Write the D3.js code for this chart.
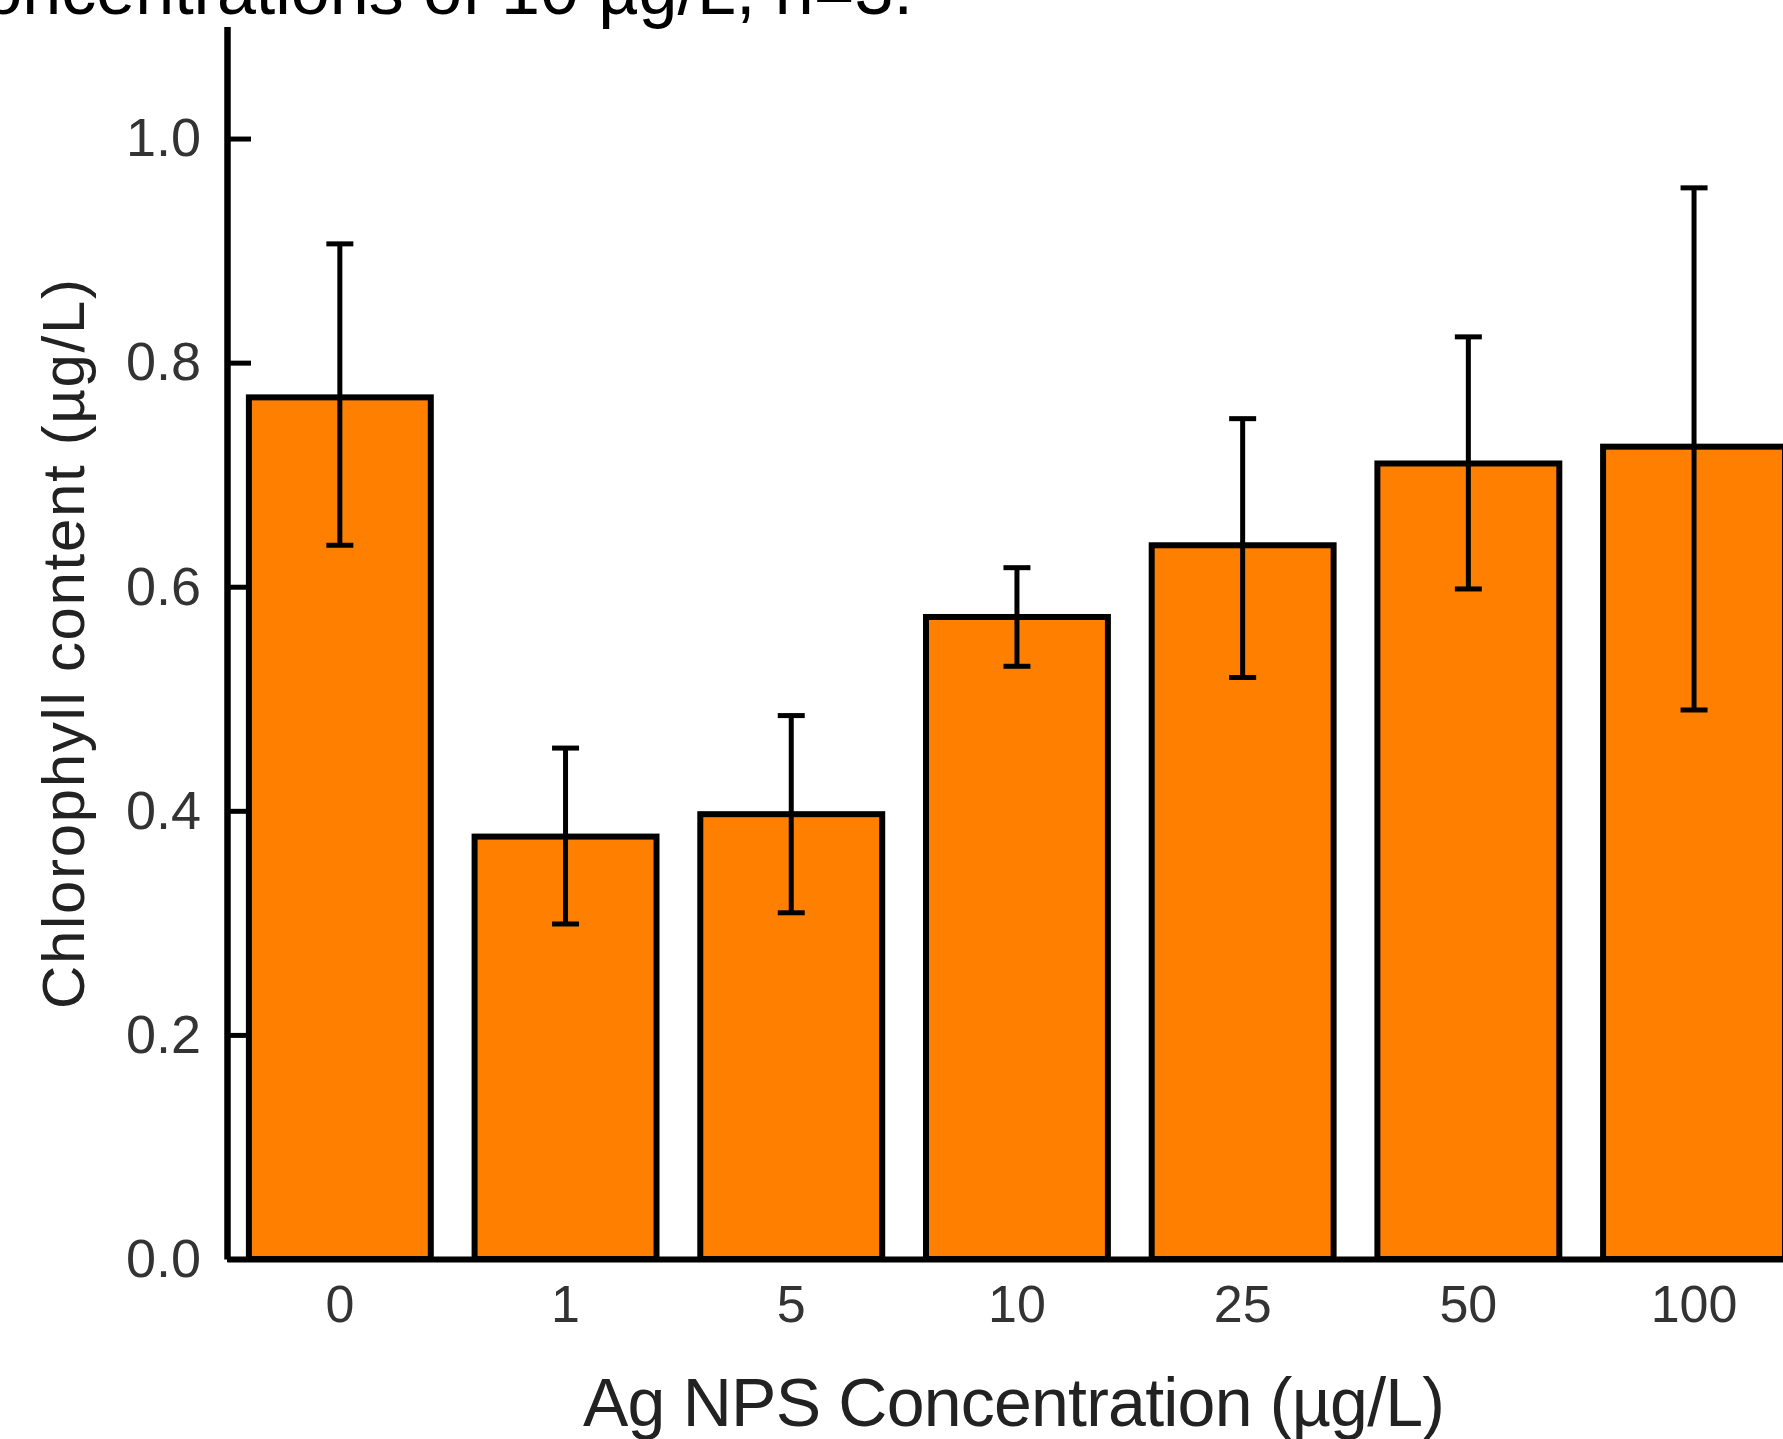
<!DOCTYPE html>
<html>
<head>
<meta charset="utf-8">
<script src="https://cdn.jsdelivr.net/npm/d3@7"></script>
<style>
  body { margin: 0; background: #fff; }
  svg { display: block; font-family: "Liberation Sans", Arial, sans-serif; }
</style>
</head>
<body>
<div id="chart"></div>
<script>
// Data
const categories = ["0", "1", "5", "10", "25", "50", "100"];
const means = [0.769, 0.377, 0.397, 0.573, 0.637, 0.710, 0.725];
const errUpper = [0.906, 0.456, 0.485, 0.617, 0.750, 0.823, 0.956];
const errLower = [0.637, 0.299, 0.309, 0.529, 0.519, 0.598, 0.490];
const yTicks = [0.0, 0.2, 0.4, 0.6, 0.8, 1.0];

const width = 1783, height = 1439;

const svg = d3.select("#chart")
  .append("svg")
  .attr("width", width)
  .attr("height", height);

// Scales
const y = d3.scaleLinear()
  .domain([0, 1.1])
  .range([1259, 26.5]);

const x = d3.scaleBand()
  .domain(categories)
  .range([227, 227 + 7 * 225.7])
  .paddingInner(0.194)
  .paddingOuter(0.097);

const data = categories.map((c, i) => ({
  cat: c, mean: means[i], hi: errUpper[i], lo: errLower[i]
}));

// Bars
svg.selectAll(".bar")
  .data(data)
  .enter()
  .append("rect")
  .attr("class", "bar")
  .attr("x", d => x(d.cat))
  .attr("y", d => y(d.mean))
  .attr("width", x.bandwidth())
  .attr("height", d => y(0) - y(d.mean))
  .attr("fill", "#ff8000")
  .attr("stroke", "#000")
  .attr("stroke-width", 6);

// X axis (baseline, no ticks)
const xAxis = svg.append("g")
  .attr("transform", `translate(0,${y(0)})`)
  .call(d3.axisBottom(x).tickSize(0).tickPadding(26));
xAxis.select(".domain").attr("stroke", "#000").attr("stroke-width", 6);
xAxis.selectAll("text")
  .attr("font-size", 52)
  .attr("font-family", "Liberation Sans, Arial, sans-serif")
  .attr("fill", "#333");

// Y axis with inward ticks
const yAxis = svg.append("g")
  .attr("transform", "translate(227,0)")
  .call(d3.axisLeft(y)
    .tickValues(yTicks)
    .tickFormat(d3.format(".1f"))
    .tickSizeInner(-24)
    .tickSizeOuter(0)
    .tickPadding(26));
yAxis.select(".domain").attr("stroke", "#000").attr("stroke-width", 6.5);
yAxis.selectAll(".tick line").attr("stroke", "#000").attr("stroke-width", 5);
yAxis.selectAll("text")
  .attr("font-size", 54)
  .attr("font-family", "Liberation Sans, Arial, sans-serif")
  .attr("fill", "#333");

// Error bars
const cx = d => x(d.cat) + x.bandwidth() / 2;
const capHalf = 13.5;
const err = svg.append("g")
  .attr("stroke", "#000")
  .attr("stroke-width", 5);

err.selectAll(".stem")
  .data(data)
  .enter()
  .append("line")
  .attr("x1", cx).attr("x2", cx)
  .attr("y1", d => y(d.hi)).attr("y2", d => y(d.lo));

err.selectAll(".capTop")
  .data(data)
  .enter()
  .append("line")
  .attr("x1", d => cx(d) - capHalf).attr("x2", d => cx(d) + capHalf)
  .attr("y1", d => y(d.hi)).attr("y2", d => y(d.hi));

err.selectAll(".capBottom")
  .data(data)
  .enter()
  .append("line")
  .attr("x1", d => cx(d) - capHalf).attr("x2", d => cx(d) + capHalf)
  .attr("y1", d => y(d.lo)).attr("y2", d => y(d.lo));

// Axis titles
svg.append("text")
  .attr("transform", "translate(84,644) rotate(-90)")
  .attr("text-anchor", "middle")
  .attr("font-size", 60)
  .attr("fill", "#222")
  .attr("textLength", 730)
  .attr("lengthAdjust", "spacing")
  .text("Chlorophyll content (µg/L)");

svg.append("text")
  .attr("x", 1014)
  .attr("y", 1426)
  .attr("text-anchor", "middle")
  .attr("font-size", 68)
  .attr("fill", "#222")
  .attr("textLength", 862)
  .attr("lengthAdjust", "spacing")
  .text("Ag NPS Concentration (µg/L)");

// Caption fragment at the top (cut off in the source figure)
svg.append("text")
  .attr("x", 913)
  .attr("y", 14)
  .attr("text-anchor", "end")
  .attr("font-size", 70)
  .attr("fill", "#000")
  .text("concentrations of 10 µg/L, n=3.");
</script>
</body>
</html>
